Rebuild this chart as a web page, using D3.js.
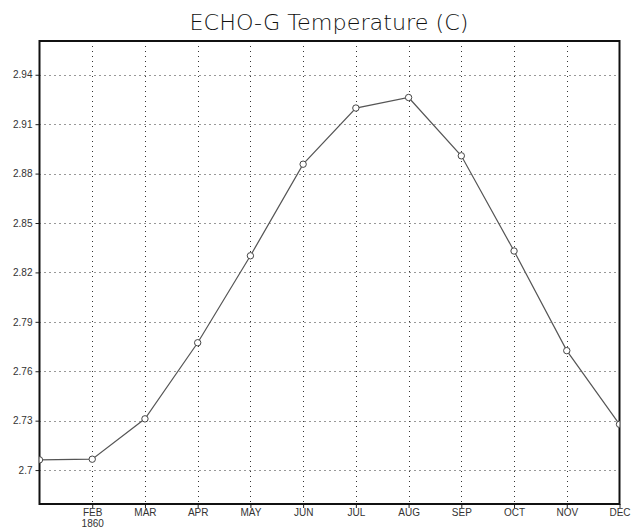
<!DOCTYPE html>
<html>
<head>
<meta charset="utf-8">
<script src="https://cdn.jsdelivr.net/npm/d3@7"></script>
<style>
  html, body { margin: 0; padding: 0; background: #fff; }
  svg { display: block; }
  .tick text { font-family: "Liberation Sans", Arial, sans-serif; fill: #333; }
</style>
</head>
<body>
<svg id="chart" width="638" height="529"></svg>
<script>
// Monthly mean temperature, ECHO-G run, year 1860
const months = ["JAN", "FEB", "MAR", "APR", "MAY", "JUN", "JUL", "AUG", "SEP", "OCT", "NOV", "DEC"];
const temperature = [2.7062, 2.7066, 2.7311, 2.7773, 2.8301, 2.8857, 2.9198, 2.9262, 2.8908, 2.8330, 2.7725, 2.7278];
const yTicks = [2.7, 2.73, 2.76, 2.79, 2.82, 2.85, 2.88, 2.91, 2.94];
const xTickLabels = ["FEB", "MAR", "APR", "MAY", "JUN", "JUL", "AUG", "SEP", "OCT", "NOV", "DEC"];
const yearLabel = "1860";
const title = "ECHO-G Temperature (C)";

const svg = d3.select("#chart");
const plotL = 39.5, plotR = 619.5, plotT = 41, plotB = 504;

const x = d3.scalePoint().domain(months).range([plotL, plotR]);
const y = d3.scaleLinear().domain([2.6794, 2.9605]).range([plotB, plotT]);

// dotted grid
const grid = svg.append("g").attr("stroke", "#333").attr("stroke-width", 1)
  .attr("stroke-dasharray", "1,4").attr("fill", "none");
grid.selectAll("line.h").data(yTicks).join("line").attr("class", "h")
  .attr("x1", plotL).attr("x2", plotR)
  .attr("y1", d => Math.round(y(d)) + 0.5).attr("y2", d => Math.round(y(d)) + 0.5);
grid.selectAll("line.v").data(months.slice(1, -1)).join("line").attr("class", "v")
  .attr("x1", d => Math.round(x(d)) + 0.5).attr("x2", d => Math.round(x(d)) + 0.5)
  .attr("y1", plotT).attr("y2", plotB);

// axes
const yAxis = svg.append("g").attr("transform", `translate(${plotL},0)`)
  .call(d3.axisLeft(y).tickValues(yTicks).tickSize(4).tickPadding(3)
    .tickFormat(d => String(+d.toFixed(2))));
yAxis.select(".domain").remove();
yAxis.selectAll(".tick line").attr("stroke", "#222");
yAxis.selectAll(".tick text").attr("font-size", 10);

const xAxis = svg.append("g").attr("transform", `translate(0,${plotB})`)
  .call(d3.axisBottom(x).tickValues(months.slice(1)).tickSize(4).tickPadding(1)
    .tickFormat((d, i) => xTickLabels[i]));
xAxis.select(".domain").remove();
xAxis.selectAll(".tick line").attr("stroke", "#222");
xAxis.selectAll(".tick text").attr("font-size", 10);
xAxis.selectAll(".tick").filter(d => d === "FEB").append("text")
  .attr("fill", "#333").attr("font-size", 10).attr("text-anchor", "middle")
  .attr("y", 16).attr("dy", "0.71em").text(yearLabel);

// frame
svg.append("rect").attr("x", plotL).attr("y", plotT)
  .attr("width", plotR - plotL).attr("height", plotB - plotT)
  .attr("fill", "none").attr("stroke", "#111").attr("stroke-width", 2);

// series
svg.append("clipPath").attr("id", "plotclip").append("rect")
  .attr("x", plotL).attr("y", plotT).attr("width", plotR - plotL).attr("height", plotB - plotT);

const pts = months.map((m, i) => [x(m), y(temperature[i])]);
svg.append("path").attr("d", d3.line()(pts))
  .attr("fill", "none").attr("stroke", "#555").attr("stroke-width", 1.2);

svg.append("g").attr("clip-path", "url(#plotclip)")
  .selectAll("circle").data(pts).join("circle")
  .attr("cx", d => d[0]).attr("cy", d => d[1]).attr("r", 3.2)
  .attr("fill", "#fff").attr("stroke", "#444").attr("stroke-width", 1);

// title
svg.append("text").attr("x", 329).attr("y", 30).attr("text-anchor", "middle")
  .attr("font-family", "DejaVu Sans, sans-serif").attr("font-size", 22)
  .attr("font-weight", 200)
  .attr("textLength", 279).attr("lengthAdjust", "spacingAndGlyphs")
  .attr("fill", "#111").text(title);
</script>
</body>
</html>
